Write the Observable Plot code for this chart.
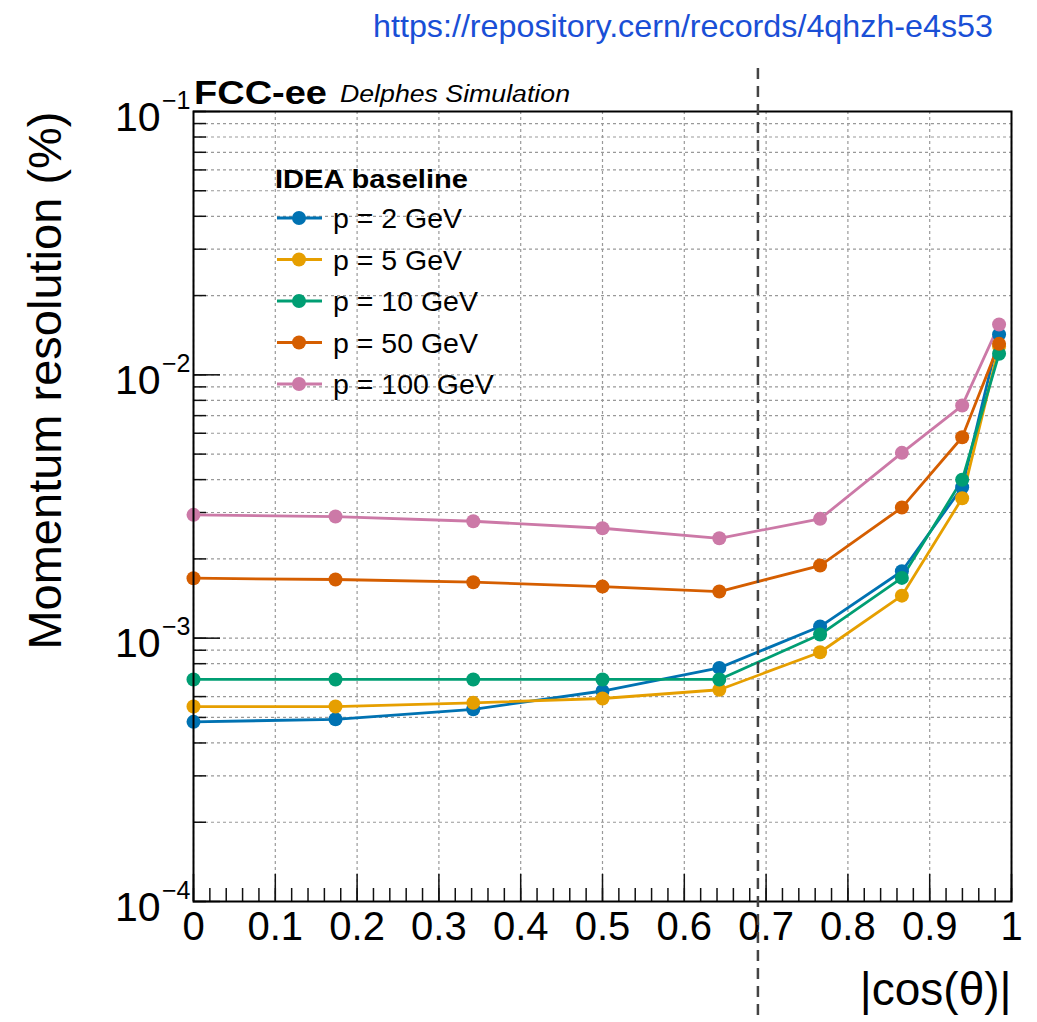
<!DOCTYPE html>
<html>
<head>
<meta charset="utf-8">
<script src="https://cdn.jsdelivr.net/npm/d3@7"></script>
<script src="https://cdn.jsdelivr.net/npm/@observablehq/plot@0.6"></script>
<style>
  html, body { margin: 0; padding: 0; background: #fff; }
  #wrap { position: relative; width: 1037px; height: 1022px; overflow: hidden; }
  #wrap svg { position: absolute; left: 0; top: 0; }
</style>
</head>
<body>
<div id="wrap"></div>
<script>
// ---- data ----
const cosTheta = [0, 0.1736, 0.342, 0.5, 0.6428, 0.766, 0.866, 0.9397, 0.9848];
const res2GeV   = [0.000481, 0.000492, 0.000537, 0.000630, 0.000771, 0.001107, 0.001795, 0.003742, 0.01422];
const res5GeV   = [0.000550, 0.000550, 0.000568, 0.000590, 0.000637, 0.000884, 0.001450, 0.003400, 0.01280];
const res10GeV  = [0.000697, 0.000697, 0.000697, 0.000697, 0.000697, 0.001032, 0.001694, 0.003993, 0.01202];
const res50GeV  = [0.001689, 0.001670, 0.001631, 0.001570, 0.001503, 0.001887, 0.003133, 0.005794, 0.01311];
const res100GeV = [0.002939, 0.002896, 0.002780, 0.002615, 0.002395, 0.002838, 0.005055, 0.007644, 0.01552];
const seriesNames  = ["p = 2 GeV", "p = 5 GeV", "p = 10 GeV", "p = 50 GeV", "p = 100 GeV"];
const seriesValues = [res2GeV, res5GeV, res10GeV, res50GeV, res100GeV];
const seriesColors = ["#0072B2", "#E69F00", "#009E73", "#D55E00", "#CC79A7"];
const xTickValues = [0, 0.1, 0.2, 0.3, 0.4, 0.5, 0.6, 0.7, 0.8, 0.9, 1];
const xTickLabels = ["0", "0.1", "0.2", "0.3", "0.4", "0.5", "0.6", "0.7", "0.8", "0.9", "1"];
const xMinorTicks = d3.range(0, 51).map(i => i / 50);
const yTickValues = [1e-4, 1e-3, 1e-2, 1e-1];
const yTickExponents = ["\u22124", "\u22123", "\u22122", "\u22121"];
const yMinorTicks = [1e-4, 1e-3, 1e-2].flatMap(d => [1,2,3,4,5,6,7,8,9].map(m => +(m * d).toPrecision(3))).concat([1e-1]);
const angularCut = 0.69;
const legendTitle = "IDEA baseline";
const urlText = "https://repository.cern/records/4qhzh-e4s53";

const rows = seriesNames.flatMap((name, i) => cosTheta.map((x, j) => ({x, y: seriesValues[i][j], series: name})));

const FONT = "'Liberation Sans', Arial, Helvetica, sans-serif";

const plot = Plot.plot({
  width: 1037,
  height: 1022,
  marginLeft: 193,
  marginRight: 26,
  marginTop: 111,
  marginBottom: 121,
  style: {fontFamily: FONT, background: "transparent", overflow: "visible"},
  x: {domain: [0, 1], axis: null},
  y: {type: "log", domain: [1e-4, 1e-1], axis: null},
  color: {domain: seriesNames, range: seriesColors},
  marks: [
    Plot.gridX(xTickValues, {stroke: "#999", strokeOpacity: 1, strokeWidth: 1.2, strokeDasharray: "3,3"}),
    Plot.gridY(yMinorTicks, {stroke: "#999", strokeOpacity: 1, strokeWidth: 1.2, strokeDasharray: "3,3"}),
    Plot.axisX(xMinorTicks, {anchor: "bottom", tickSize: -13, tickFormat: () => "", label: null, strokeWidth: 1.5, stroke: "#111"}),
    Plot.axisX(xTickValues, {anchor: "bottom", tickSize: -27, tickFormat: () => "", label: null, strokeWidth: 1.5, stroke: "#111"}),
    Plot.axisY(yMinorTicks, {anchor: "left", tickSize: -13, tickFormat: () => "", label: null, strokeWidth: 1.5, stroke: "#111"}),
    Plot.axisY(yTickValues, {anchor: "left", tickSize: -27, tickFormat: () => "", label: null, strokeWidth: 1.5, stroke: "#111"}),
    Plot.text(xTickValues, {x: d => d, text: (d, i) => xTickLabels[i], frameAnchor: "bottom", dy: 38, fontSize: 40, fill: "#000"}),
    Plot.text(yTickValues, {y: d => d, text: () => "10", frameAnchor: "left", textAnchor: "end", dx: -33, dy: 6, fontSize: 41, fill: "#000"}),
    Plot.text(yTickValues, {y: d => d, text: (d, i) => yTickExponents[i], frameAnchor: "left", textAnchor: "end", dx: -3, dy: -11, fontSize: 25, fill: "#000"}),
    Plot.text(["Momentum resolution (%)"], {text: d => d, frameAnchor: "top-left", rotate: -90, textAnchor: "end", dx: -166, dy: 0, fontSize: 47, fill: "#000"}),
    Plot.text(["|cos(\u03B8)|"], {text: d => d, frameAnchor: "bottom-right", textAnchor: "end", dx: 0, dy: 103, fontSize: 46, fill: "#000"}),
    Plot.line(rows, {x: "x", y: "y", z: "series", stroke: "series", strokeWidth: 2.8}),
    Plot.dot(rows, {x: "x", y: "y", fill: "series", r: 7}),
    Plot.frame({stroke: "#000", strokeWidth: 2}),
    Plot.ruleX([angularCut], {insetTop: -43, insetBottom: -121, stroke: "#444", strokeWidth: 2.5, strokeDasharray: "11,7"})
  ]
});
document.getElementById("wrap").appendChild(plot);

// ---- annotations overlay (header, url, legend) ----
const ov = d3.select("#wrap").append("svg")
  .attr("width", 1037).attr("height", 1022)
  .style("font-family", FONT);

ov.append("text").attr("x", 373).attr("y", 37).attr("font-size", 32).attr("fill", "#1a4fd6")
  .attr("textLength", 620).attr("lengthAdjust", "spacingAndGlyphs").text(urlText);
ov.append("text").attr("x", 194).attr("y", 104).attr("font-size", 34).attr("font-weight", "bold").attr("fill", "#000")
  .attr("textLength", 133).attr("lengthAdjust", "spacingAndGlyphs").text("FCC-ee");
ov.append("text").attr("x", 340).attr("y", 102).attr("font-size", 23).attr("font-style", "italic").attr("fill", "#000")
  .attr("textLength", 230).attr("lengthAdjust", "spacingAndGlyphs").text("Delphes Simulation");

ov.append("text").attr("x", 275).attr("y", 188).attr("font-size", 26).attr("font-weight", "bold").attr("fill", "#000")
  .attr("textLength", 193).attr("lengthAdjust", "spacingAndGlyphs").text(legendTitle);
const leg = ov.selectAll("g.leg").data(seriesNames).join("g")
  .attr("transform", (d, i) => `translate(0,${218 + i * 41.5})`);
leg.append("line").attr("x1", 277).attr("x2", 322).attr("y1", 0).attr("y2", 0)
  .attr("stroke", (d, i) => seriesColors[i]).attr("stroke-width", 2.8);
leg.append("circle").attr("cx", 299).attr("cy", 0).attr("r", 7).attr("fill", (d, i) => seriesColors[i]);
leg.append("text").attr("x", 333).attr("y", 0).attr("dy", "0.36em").attr("font-size", 28.5).attr("fill", "#000").text(d => d);
</script>
</body>
</html>
